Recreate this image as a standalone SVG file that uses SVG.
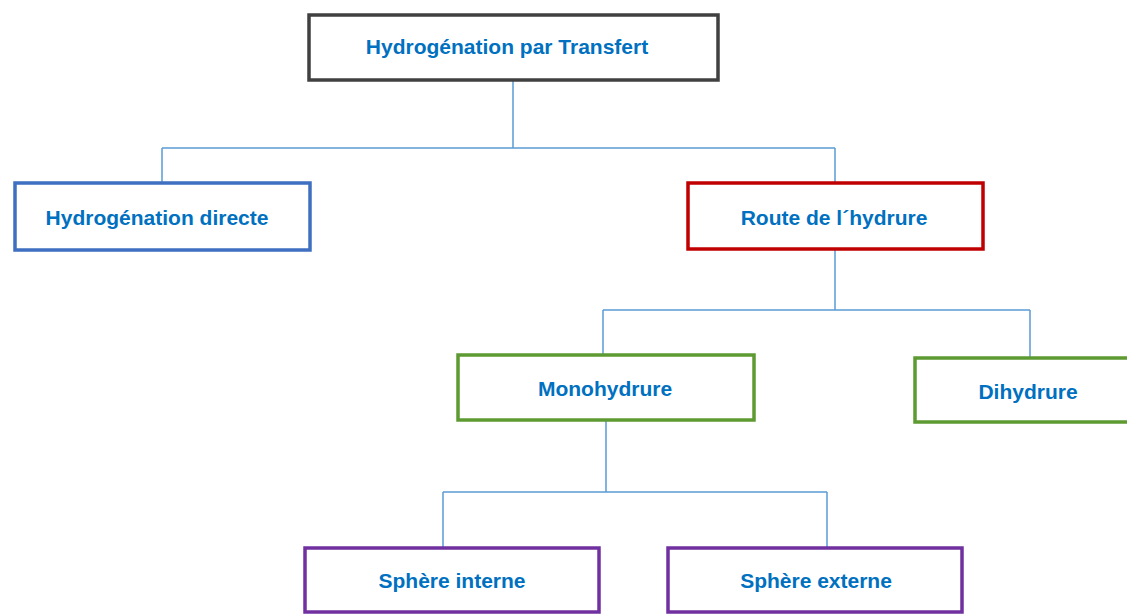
<svg xmlns="http://www.w3.org/2000/svg" width="1127" height="616" viewBox="0 0 1127 616">
<style>
.box{fill:#ffffff;stroke-width:3.5}
.lbl{font-family:"Liberation Sans",Arial,sans-serif;font-weight:bold;font-size:21px;fill:#0070C0;text-anchor:middle}
.conn{fill:none;stroke:#5B9BD5;stroke-width:1.5}
</style>
<rect width="1127" height="616" fill="#ffffff"/>
<g id="connectors">
<path class="conn" d="M513 80V148M162 148H835M162 148V183M835 148V183"/>
<path class="conn" d="M835 249V310M603 310H1030M603 310V355M1030 310V358"/>
<path class="conn" d="M606 420V492M443 492H827M443 492V548M827 492V548"/>
</g>
<g id="n-transfert">
<rect class="box" x="309" y="15" width="409" height="65" stroke="#404040"/>
<text class="lbl" x="507" y="54">Hydrogénation par Transfert</text>
</g>
<g id="n-directe">
<rect class="box" x="15" y="183" width="295" height="67" stroke="#3F6FC0"/>
<text class="lbl" x="157" y="225">Hydrogénation directe</text>
</g>
<g id="n-hydrure">
<rect class="box" x="688" y="183" width="295" height="66" stroke="#C00000"/>
<text class="lbl" x="834" y="225">Route de l´hydrure</text>
</g>
<g id="n-mono">
<rect class="box" x="458" y="355" width="296" height="65" stroke="#5E9A32"/>
<text class="lbl" x="605" y="396">Monohydrure</text>
</g>
<g id="n-di">
<rect class="box" x="915" y="358" width="220" height="64" stroke="#5E9A32"/>
<text class="lbl" x="1028" y="399">Dihydrure</text>
</g>
<g id="n-interne">
<rect class="box" x="305" y="548" width="294" height="64" stroke="#7030A0"/>
<text class="lbl" x="452" y="588">Sphère interne</text>
</g>
<g id="n-externe">
<rect class="box" x="668" y="548" width="294" height="64" stroke="#7030A0"/>
<text class="lbl" x="816" y="588">Sphère externe</text>
</g>
</svg>
